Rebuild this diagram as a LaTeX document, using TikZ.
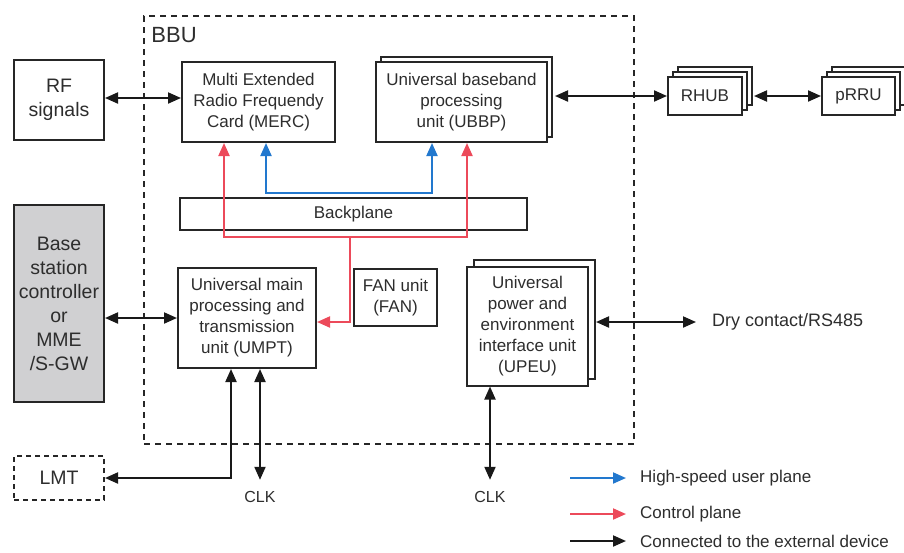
\documentclass[tikz,border=0pt]{standalone}
\usepackage{fontspec}
\setmainfont{Liberation Sans}
\usetikzlibrary{arrows.meta,calc,shadows}
\definecolor{LineClr}{RGB}{38,38,38}
\definecolor{TextClr}{RGB}{45,45,45}
\definecolor{UserClr}{RGB}{34,120,206}
\definecolor{CtrlClr}{RGB}{236,74,90}
\definecolor{BscClr}{RGB}{208,208,210}

\begin{document}
\begin{tikzpicture}[x=1pt,y=-1pt,
  >={Triangle[length=13pt,width=11pt]},
  unit/.style={draw=LineClr,line width=2pt,fill=white,align=center,
    text=TextClr,inner sep=0pt,font=\fontsize{17}{21}\selectfont},
  outer/.style={unit,font=\fontsize{19.5}{24}\selectfont},
  stack/.style={copy shadow={shadow xshift=#1,shadow yshift=#1,
    draw=LineClr,fill=white,line width=2pt}},
  stack/.default=5pt,
  stacktwo/.style={stack=10pt,stack=5pt},
  lbl/.style={text=TextClr,font=\fontsize{16}{20}\selectfont},
  legend/.style={text=TextClr,inner sep=0pt,anchor=west,font=\fontsize{17}{20}\selectfont},
  ext/.style={draw=black!90,line width=2pt},
  user/.style={draw=UserClr,line width=2pt},
  ctrl/.style={draw=CtrlClr,line width=2pt}]
\useasboundingbox (0,0) rectangle (904,552);

% BBU frame
\node[draw=LineClr,line width=1.6pt,dash pattern=on 6pt off 5pt,
  minimum width=490pt,minimum height=428pt,inner sep=0pt] (bbu) at (389,230) {};
\node[anchor=north west,text=TextClr,inner sep=0pt,font=\fontsize{22}{24}\selectfont]
  (bbulbl) at ($(bbu.north west)+(8,12)$) {BBU};

% outside devices
\node[outer,minimum width=90pt,minimum height=80pt] (rf) at (59,100) {RF\\signals};
\node[outer,fill=BscClr,minimum width=90pt,minimum height=197pt] (bsc) at (59,303.5)
  {Base\\station\\controller\\or\\MME\\/S-GW};
\node[outer,dash pattern=on 5pt off 4pt,minimum width=90pt,minimum height=44pt] (lmt) at (59,478) {LMT};
\node[unit,stacktwo,minimum width=74pt,minimum height=38pt] (rhub) at (705,96) {RHUB};
\node[unit,stacktwo,minimum width=73pt,minimum height=38pt] (prru) at (858.5,96) {pRRU};

% boards in the BBU
\node[unit,minimum width=153pt,minimum height=80pt] (merc) at (258.5,102)
  {Multi Extended\\Radio Frequendy\\Card (MERC)};
\node[unit,stack,minimum width=171pt,minimum height=80pt] (ubbp) at (461.5,102)
  {Universal baseband\\processing\\unit (UBBP)};
\node[unit,minimum width=347pt,minimum height=32pt] (bkp) at (353.5,214) {Backplane};
\node[unit,minimum width=138pt,minimum height=100pt] (umpt) at (247,318)
  {Universal main\\processing and\\transmission\\unit (UMPT)};
\node[unit,minimum width=83pt,minimum height=57pt] (fan) at (395.5,297.5) {FAN unit\\(FAN)};
\node[unit,stack=7pt,minimum width=121pt,minimum height=119pt] (upeu) at (527.5,326)
  {Universal\\power and\\environment\\interface unit\\(UPEU)};

\node[legend,font=\fontsize{18}{20}\selectfont] (dry) at (712,322) {Dry contact/RS485};
\node[lbl] (clka) at (260,497) {CLK};
\node[lbl] (clkb) at (490,497) {CLK};

% user plane
\draw[user,<->] ($(merc.south west)+(85,0)$) -- ++(0,50) -| ($(ubbp.south west)+(57,0)$);

% control plane
\draw[ctrl,<->] ($(merc.south west)+(43,0)$) |- ($(bkp.south)+(0,6)$)
  -| ($(ubbp.south west)+(92,0)$);
\draw[ctrl,->] ($(bkp.south)+(-4,6)$) |- ($(umpt.east)+(0,4)$);

% links to external devices
\draw[ext,<->] ($(rf.east)+(0,-2)$) -- ($(rf.east -| merc.west)+(0,-2)$);
\draw[ext,<->] ($(rhub.west -| ubbp.east)+(7,0)$) -- (rhub.west);
\draw[ext,<->] ($(rhub.east)+(11,0)$) -- (prru.west);
\draw[ext,<->] (umpt.west -| bsc.east) -- (umpt.west);
\draw[ext,<->] ($(upeu.east)+(7,-4)$) -- ($(dry.west)+(-16,0)$);
\draw[ext,<->] ($(umpt.south west)+(54,0)$) |- (lmt.east);
\draw[ext,<->,shorten >=8pt] (clka.north |- umpt.south) -- (clka.north);
\draw[ext,<->,shorten >=8pt] (clkb.north |- upeu.south) -- (clkb.north);

% legend
\node[legend] (lgusr) at (640,478) {High-speed user plane};
\node[legend] (lgctl) at (640,514) {Control plane};
\node[legend] (lgext) at (640,541) {Connected to the external device};
\draw[user,->] ($(lgusr.west)+(-70,0)$) -- ($(lgusr.west)+(-14,0)$);
\draw[ctrl,->] ($(lgctl.west)+(-70,0)$) -- ($(lgctl.west)+(-14,0)$);
\draw[ext,->] ($(lgext.west)+(-70,0)$) -- ($(lgext.west)+(-14,0)$);
\end{tikzpicture}
\end{document}
